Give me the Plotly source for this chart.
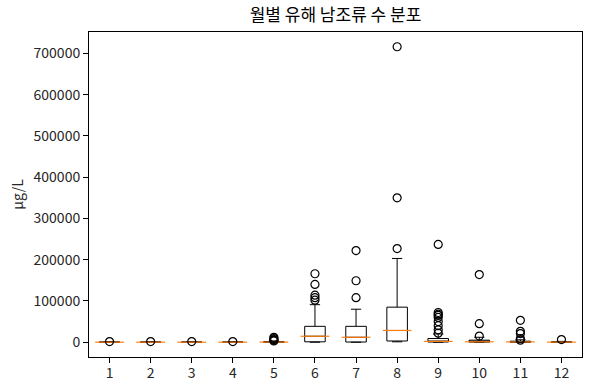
import plotly.graph_objects as go

months = [1, 2, 3, 4, 5, 6, 7, 8, 9, 10, 11, 12]
q1 = [0, 0, 0, 0, 0, 1000, 500, 3000, 500, 300, 200, 0]
median = [100, 100, 100, 100, 300, 14500, 12000, 28500, 2000, 1000, 700, 200]
q3 = [500, 500, 500, 500, 1200, 38500, 38500, 85000, 9000, 5000, 2500, 800]
lower = [0, 0, 0, 0, 0, 0, 0, 1000, 0, 0, 0, 0]
upper = [1000, 1000, 1000, 1000, 2500, 91000, 80000, 203000, 20000, 12000, 6000, 2000]
outliers = {
    1: [1500],
    2: [1500],
    3: [1500],
    4: [1500],
    5: [3000, 4500, 6500, 9000, 12000],
    6: [102000, 108000, 114000, 140000, 166000],
    7: [108000, 149000, 222000],
    8: [227000, 350000, 716000],
    9: [22000, 30000, 40000, 50000, 60000, 65000, 68000, 72000, 237000],
    10: [15000, 45000, 164000],
    11: [5000, 9000, 21000, 26500, 53000],
    12: [6500],
}
ytick_vals = [0, 100000, 200000, 300000, 400000, 500000, 600000, 700000]
ytick_text = ["0", "100000", "200000", "300000", "400000", "500000", "600000", "700000"]

title = "월별 유해 남조류 수 분포"
ylabel = "μg/L"

fig = go.Figure()
fig.add_trace(go.Box(
    x=months, q1=q1, median=median, q3=q3,
    lowerfence=lower, upperfence=upper,
    boxpoints=False, width=0.5, whiskerwidth=0.5,
    line=dict(color="black", width=1),
    fillcolor="rgba(0,0,0,0)",
    showlegend=False, hoverinfo="skip",
))
fig.add_trace(go.Scatter(
    x=months, y=median, mode="markers",
    marker=dict(symbol="line-ew", size=20.5,
                line=dict(color="#ff7f0e", width=1.2)),
    showlegend=False, hoverinfo="skip",
))
ox, oy = [], []
for m, vals in outliers.items():
    for v in vals:
        ox.append(m)
        oy.append(v)
fig.add_trace(go.Scatter(
    x=ox, y=oy, mode="markers",
    marker=dict(symbol="circle-open", size=8, color="black",
                line=dict(color="black", width=1.2)),
    showlegend=False, hoverinfo="skip",
))

font = "Noto Sans CJK KR"
tick_col = "#262626"
fig.update_layout(
    width=590, height=390,
    margin=dict(l=89, r=8, t=32, b=33, autoexpand=False),
    paper_bgcolor="white", plot_bgcolor="white",
    font=dict(family=font, size=14, color=tick_col),
    title=dict(text=title, x=0.5, xref="paper", xanchor="center",
               y=1 - 15 / 390, yanchor="middle",
               font=dict(size=17, color="black", family=font)),
    xaxis=dict(range=[0.5, 12.5], tickvals=months, ticktext=[str(m) for m in months],
               showgrid=False, zeroline=False, showline=True, mirror=True,
               linecolor="black", linewidth=1, ticks="outside", ticklen=5,
               tickcolor="black", tickfont=dict(size=14, color=tick_col),
               ticklabelstandoff=-2, automargin=False),
    yaxis=dict(range=[-35800, 751800], tickvals=ytick_vals, ticktext=ytick_text,
               showgrid=False, zeroline=False, showline=True, mirror=True,
               linecolor="black", linewidth=1, ticks="outside", ticklen=5,
               tickcolor="black", tickfont=dict(size=14, color=tick_col),
               automargin=False,
               title=dict(text=ylabel, standoff=6, font=dict(size=14, color=tick_col))),
)
fig.write_html("out.html", config={"displayModeBar": False},
               post_script="document.body.style.margin='0';document.body.style.padding='0';")
